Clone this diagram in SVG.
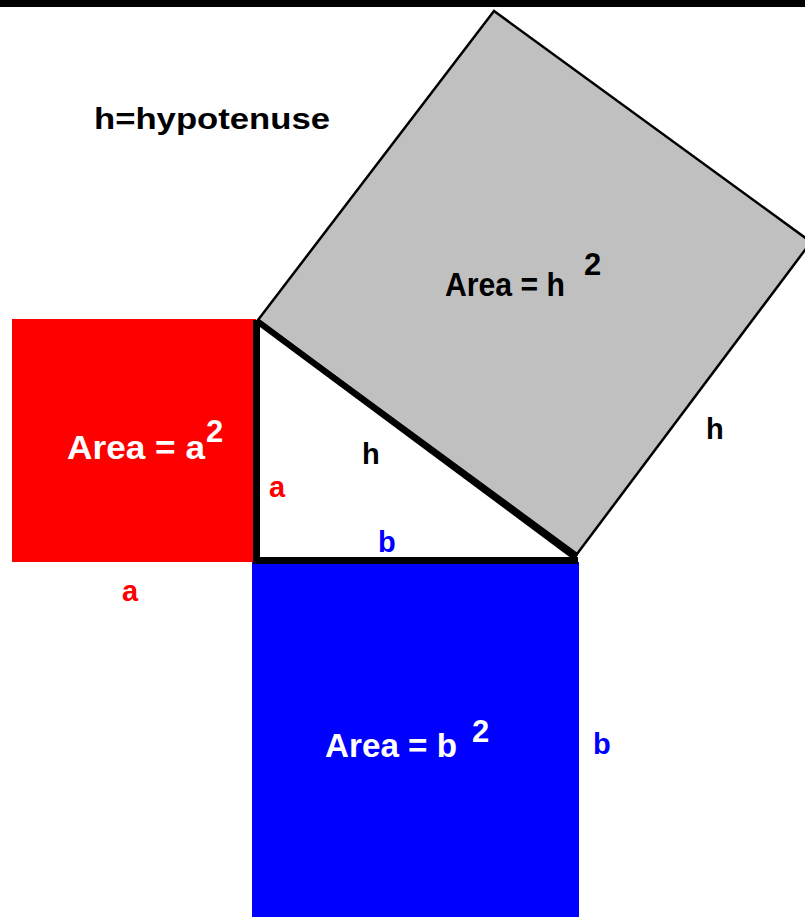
<svg xmlns="http://www.w3.org/2000/svg" width="805" height="917" viewBox="0 0 805 917">
<style>
text{font-family:"Liberation Sans",Arial,sans-serif;font-weight:bold}
.big{font-size:34px}
.sup{font-size:31px}
.lbl{font-size:29px}
.w{fill:#fff}
.k{fill:#000}
.r{fill:#ff0000}
.bl{fill:#0000ff}
</style>
<rect x="0" y="0" width="805" height="917" fill="#fff"/>
<rect x="0" y="0" width="805" height="7" fill="#000"/>
<g id="title"><text class="k" x="94" y="129" font-size="30" textLength="236" lengthAdjust="spacingAndGlyphs">h=hypotenuse</text></g>
<g id="squareH">
<polygon points="258,320 494,11 811,242 577,554" fill="#c0c0c0" stroke="#000" stroke-width="2.5" stroke-linejoin="miter"/>
<text class="k big" x="445" y="296" textLength="120" lengthAdjust="spacingAndGlyphs">Area = h</text>
<text class="k sup" x="584" y="275">2</text>
</g>
<g id="squareA">
<rect x="12" y="319" width="244" height="243" fill="#ff0000"/>
<text class="w big" x="67" y="459" textLength="138" lengthAdjust="spacingAndGlyphs">Area = a</text>
<text class="w sup" x="206" y="442">2</text>
</g>
<g id="squareB">
<rect x="252" y="562" width="327" height="355" fill="#0000ff"/>
<text class="w big" x="325" y="757" textLength="132" lengthAdjust="spacingAndGlyphs">Area = b</text>
<text class="w sup" x="472" y="742">2</text>
</g>
<g id="triangle">
<polygon points="256.5,321 256.5,560.5 577,560.5" fill="#fff"/>
<line x1="256.5" y1="320" x2="256.5" y2="564" stroke="#000" stroke-width="7"/>
<line x1="253" y1="560.5" x2="578" y2="560.5" stroke="#000" stroke-width="7"/>
<line x1="257" y1="321" x2="576" y2="558" stroke="#000" stroke-width="6"/>
</g>
<g id="labels">
<text class="k lbl" x="362" y="464">h</text>
<text class="r lbl" x="269" y="497">a</text>
<text class="bl lbl" x="378" y="552">b</text>
<text class="r lbl" x="122" y="601">a</text>
<text class="k lbl" x="706" y="439">h</text>
<text class="bl lbl" x="593" y="754">b</text>
</g>
</svg>
